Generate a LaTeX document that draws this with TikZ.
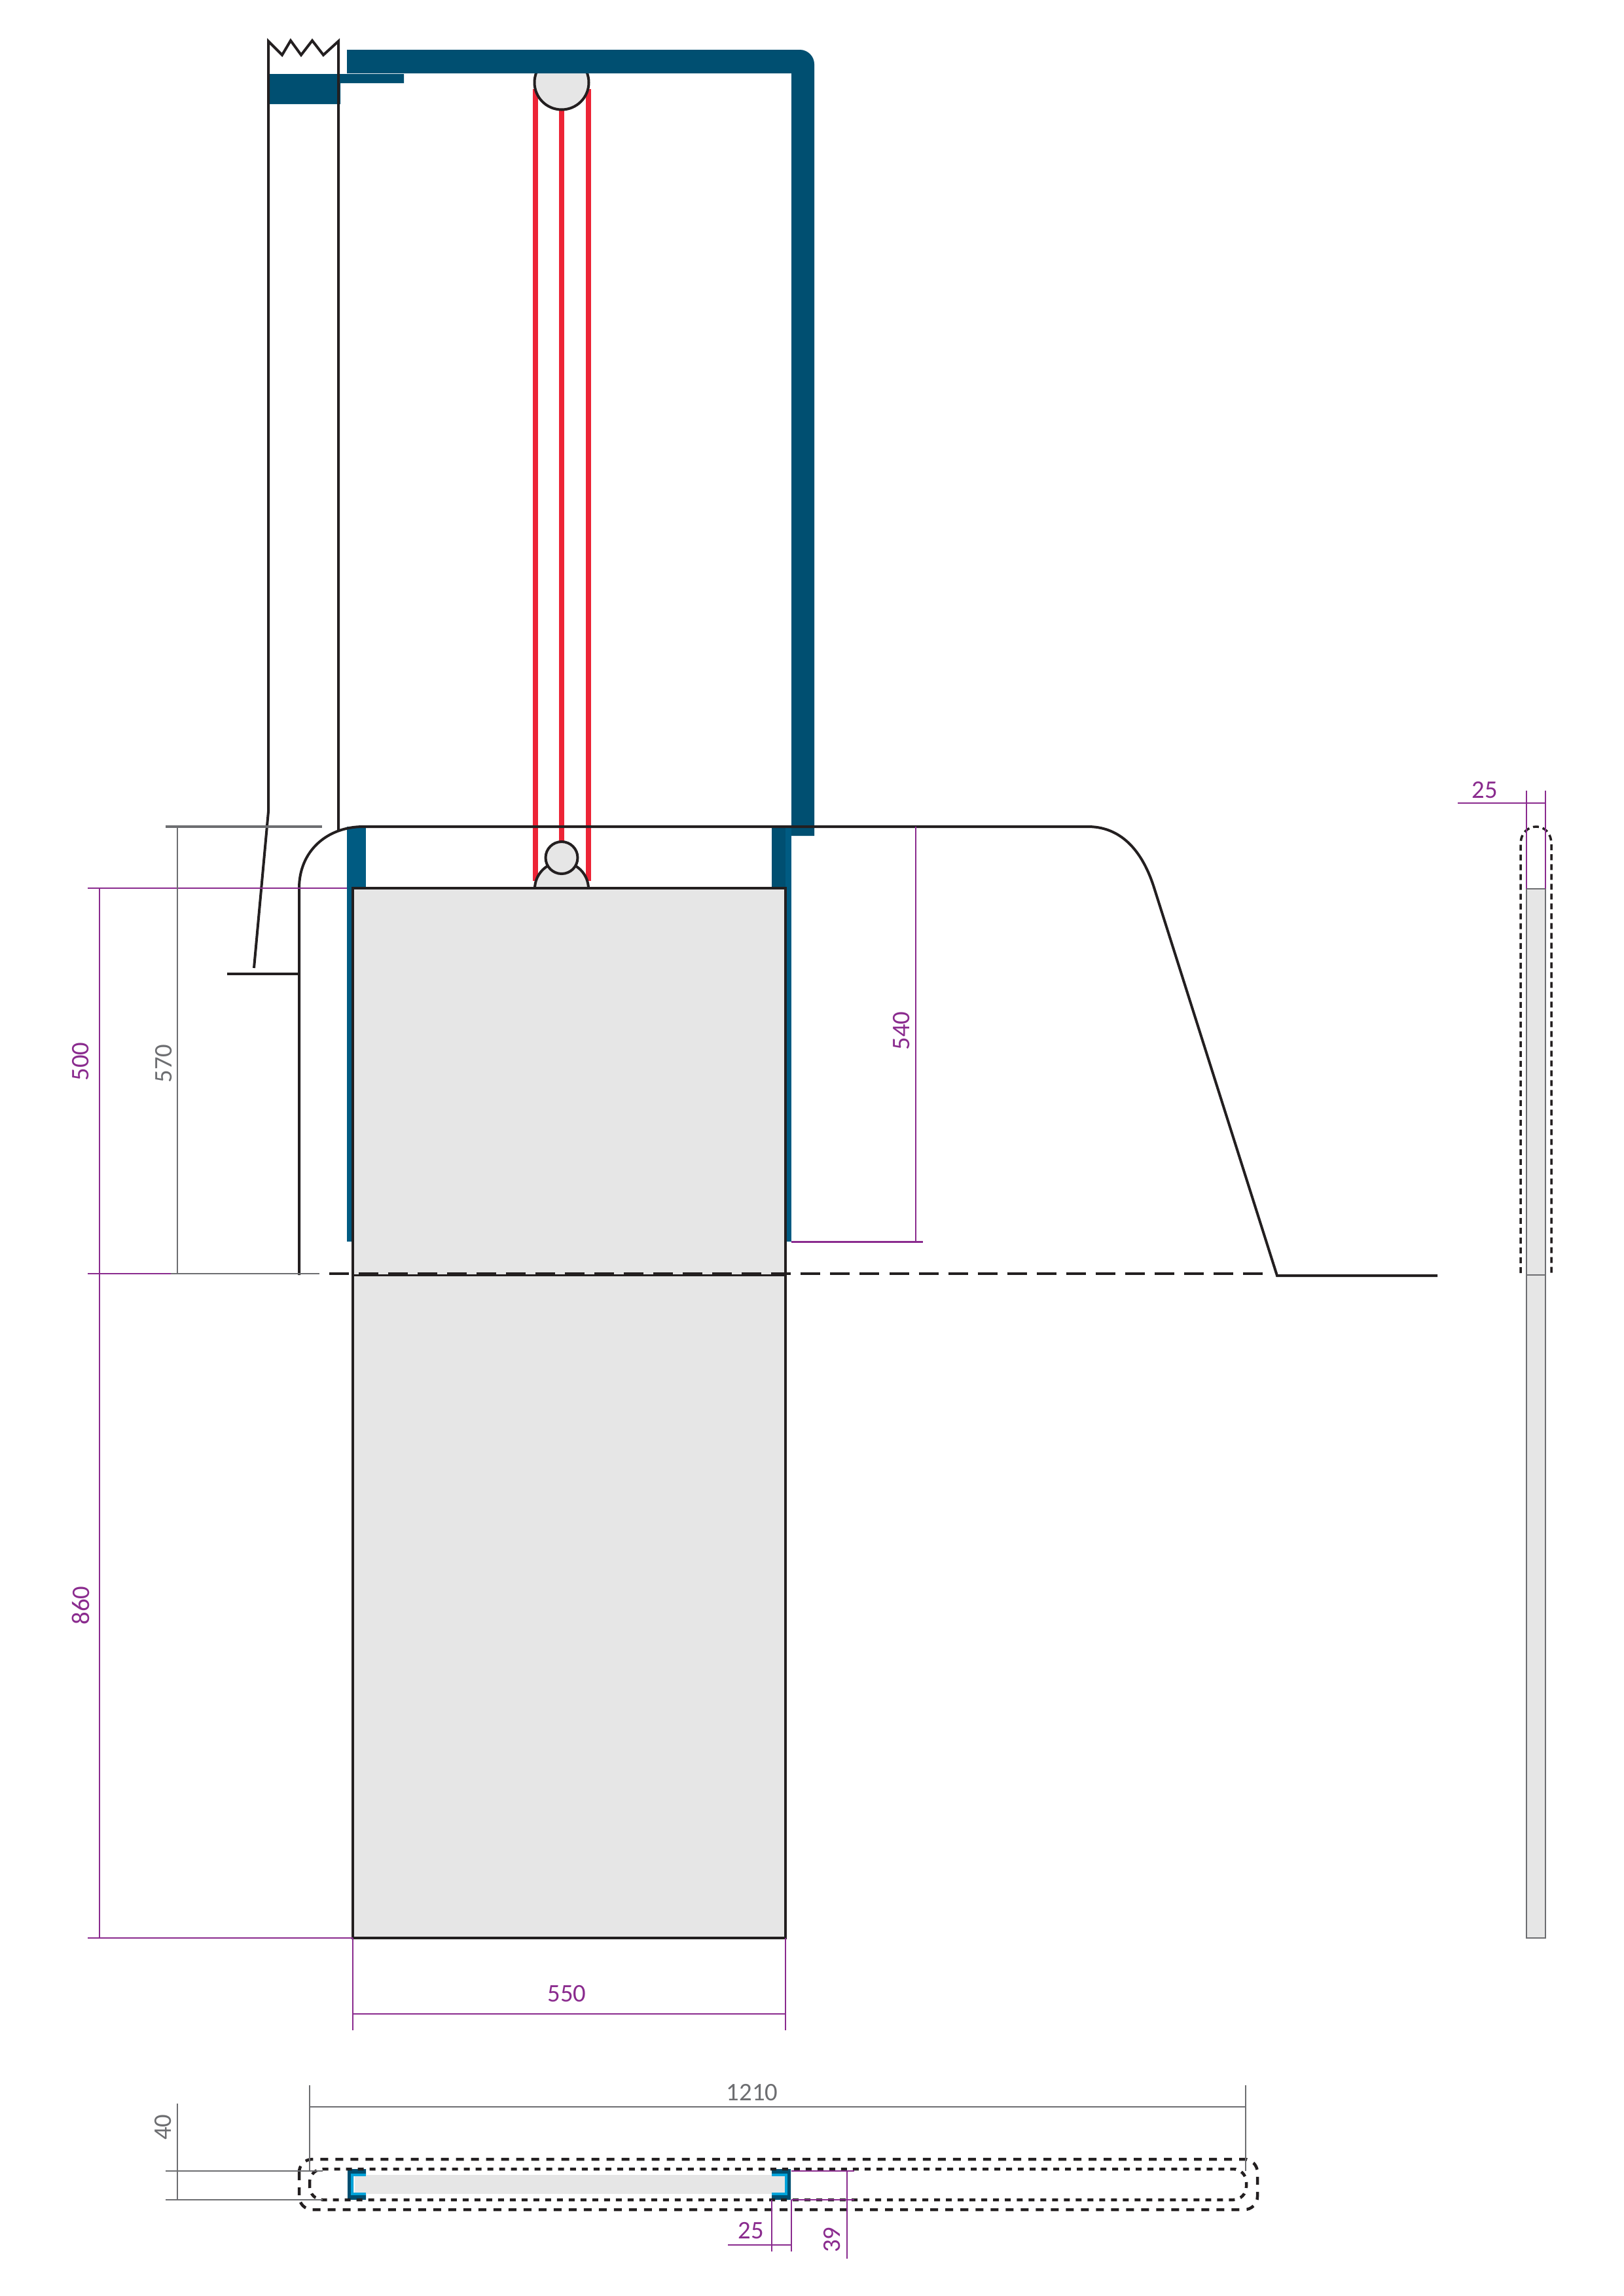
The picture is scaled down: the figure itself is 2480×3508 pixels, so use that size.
\documentclass[tikz,border=0pt]{standalone}
\usepackage{fontspec}
\setmainfont{Carlito}
\definecolor{steeldark}{HTML}{004F71}
\definecolor{steelmid}{HTML}{005B82}
\definecolor{steellight}{HTML}{00A3DA}
\definecolor{rope}{HTML}{ED2436}
\definecolor{dimpurple}{HTML}{8A2B8E}
\definecolor{dimgrey}{HTML}{6D6E71}
\definecolor{inkblack}{HTML}{231F20}
\definecolor{panelgrey}{HTML}{E6E6E6}
\tikzset{
  wall/.style={draw=inkblack,line width=0.04cm},
  thinwall/.style={draw=inkblack,line width=0.03cm},
  rope line/.style={draw=rope,line width=0.085cm},
  pulley/.style={wall,fill=panelgrey},
  dim p/.style={draw=dimpurple,line width=0.025cm},
  dim g/.style={draw=dimgrey,line width=0.025cm},
  label p/.style={text=dimpurple,font=\fontsize{11}{12}\selectfont,inner sep=0pt},
  label g/.style={text=dimgrey,font=\fontsize{11}{12}\selectfont,inner sep=0pt},
  cutline/.style={draw=inkblack,line width=0.04cm,dash pattern=on 0.3cm off 0.15cm},
  outline side/.style={draw=inkblack,line width=0.035cm,dash pattern=on 0.09cm off 0.06cm},
  outline outer/.style={draw=inkblack,line width=0.045cm,dash pattern=on 0.12cm off 0.11cm,rounded corners=0.2cm},
  outline inner/.style={draw=inkblack,line width=0.045cm,dash pattern=on 0.09cm off 0.09cm,rounded corners=0.2cm}
}
\begin{document}
\begin{tikzpicture}[x=0.01cm,y=-0.01cm]
\useasboundingbox (0,0) rectangle (2480,3508);

\draw[rope line] (818,136) -- (818,1346);
\draw[rope line] (858,136) -- (858,1286);
\draw[rope line] (899,136) -- (899,1346);
\draw[pulley] (858,126) circle (41.5);

\fill[steeldark] (530,76) -- (1222,76) .. controls (1234,76) and (1244,86) .. (1244,98) -- (1244,1277) -- (1209,1277) -- (1209,112) -- (530,112) -- cycle;
\fill[steeldark] (410,113) -- (617,113) -- (617,127) -- (520,127) -- (520,159) -- (410,159) -- cycle;

\fill[steelmid] (530,1263) rectangle (559,1357);
\fill[steelmid] (530,1357) rectangle (540,1897);
\fill[steeldark] (1179,1263) rectangle (1200,1357);
\fill[steelmid] (1200,1263) rectangle (1209,1897);

\draw[wall] (517,1270) -- (517,63) -- (494,84) -- (477,62) -- (460,84) -- (444,62) -- (431,84) -- (410,63) -- (410,1240) -- (388,1479);
\draw[wall] (347,1488) -- (457,1488);
\draw[wall] (457,1948) -- (457,1357) .. controls (457,1300) and (500,1263) .. (555,1263) -- (1662,1263) .. controls (1705,1263) and (1742,1290) .. (1763,1356) -- (1951,1949) -- (2196,1949);

\begin{scope}
\clip (800,1280) rectangle (920,1357);
\draw[pulley] (858,1358) circle (41);
\end{scope}
\draw[pulley] (858,1310.5) circle (24.5);

\draw[wall,fill=panelgrey] (539,1357) rectangle (1200,2961);
\draw[thinwall] (539,1948) -- (1200,1948);
\draw[cutline] (503,1946) -- (1935,1946);

\draw[dim p] (134,1357) -- (530,1357);
\draw[dim p] (134,1946) -- (261,1946);
\draw[dim p] (134,2961) -- (539,2961);
\draw[dim p] (152,1357) -- (152,2961);
\node[label p,rotate=90] (lbl500) at (123,1622) {500};
\node[label p,rotate=90] (lbl860) at (123,2453) {860};

\draw[dim g,line width=0.035cm] (253,1263) -- (492,1263);
\draw[dim g] (271,1263) -- (271,1946);
\draw[dim g] (261,1946) -- (488,1946);
\node[label g,rotate=90] (lbl570) at (250,1625) {570};

\draw[dim p] (1399,1263) -- (1399,1897);
\draw[dim p,line width=0.03cm] (1209,1897) -- (1410,1897);
\node[label p,rotate=90] (lbl540) at (1377,1575) {540};

\draw[dim p] (539,2961) -- (539,3102);
\draw[dim p] (1200,2961) -- (1200,3102);
\draw[dim p] (539,3077) -- (1200,3077);
\node[label p] (lbl550) at (866,3046) {550};

\fill[panelgrey,draw=dimgrey,line width=0.025cm] (2332,1358) rectangle (2361,2961);
\draw[dimgrey,line width=0.025cm] (2332,1948) -- (2361,1948);
\draw[outline side] (2323,1945) -- (2323,1290) .. controls (2323,1272) and (2335,1263) .. (2347,1263) .. controls (2359,1263) and (2370,1272) .. (2370,1290) -- (2370,1945);
\draw[dim p] (2332,1208) -- (2332,1358);
\draw[dim p] (2361,1208) -- (2361,1358);
\draw[dim p] (2227,1227) -- (2361,1227);
\node[label p] (lbl25side) at (2268,1207) {25};

\fill[panelgrey] (542,3323) rectangle (1199,3352);
\fill[steeldark] (559,3314) -- (531,3314) -- (531,3361) -- (559,3361) -- (559,3352) -- (540,3352) -- (540,3323) -- (559,3323) -- cycle;
\draw[steellight,line width=0.04cm] (559,3323) -- (538,3323) -- (538,3352) -- (559,3352);
\fill[steeldark] (1179,3314) -- (1208,3314) -- (1208,3361) -- (1179,3361) -- (1179,3352) -- (1199,3352) -- (1199,3323) -- (1179,3323) -- cycle;
\draw[steellight,line width=0.04cm] (1179,3323) -- (1201,3323) -- (1201,3352) -- (1179,3352);

\draw[outline outer] (457,3299) rectangle (1921,3376);
\draw[outline inner] (473,3314) rectangle (1904,3361);

\draw[dim g] (473,3186) -- (473,3317);
\draw[dim g] (1903,3186) -- (1903,3317);
\draw[dim g] (473,3219) -- (1903,3219);
\node[label g] (lbl1210) at (1149,3197) {1210};
\draw[dim g] (271,3214) -- (271,3361);
\draw[dim g] (253,3317) -- (493,3317);
\draw[dim g] (253,3361) -- (493,3361);
\node[label g,rotate=90] (lbl40) at (249,3250) {40};

\draw[dim p] (1179,3361) -- (1179,3440);
\draw[dim p] (1209,3361) -- (1209,3440);
\draw[dim p] (1112,3430) -- (1209,3430);
\node[label p] (lbl25plan) at (1147,3408) {25};
\draw[dim p] (1209,3317) -- (1305,3317);
\draw[dim p] (1209,3361) -- (1305,3361);
\draw[dim p] (1294,3317) -- (1294,3451);
\node[label p,rotate=90] (lbl39) at (1271,3422) {39};
\end{tikzpicture}
\end{document}
